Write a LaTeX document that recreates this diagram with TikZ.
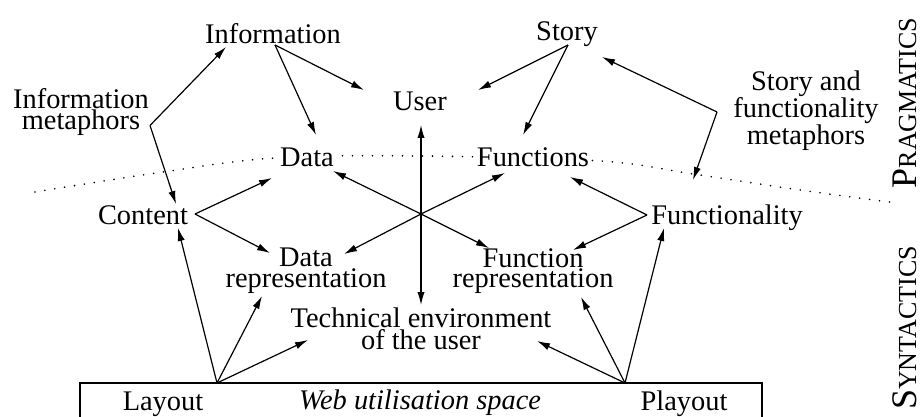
\documentclass[tikz,border=0pt]{standalone}
\usepackage{fontspec}
\setmainfont{Liberation Serif}
\usetikzlibrary{arrows.meta,calc}
\lineskiplimit=-30pt
\begin{document}
\begin{tikzpicture}[x=0.5pt,y=-0.5pt,
  lbl/.style={inner sep=0pt, font=\fontsize{14.2}{17}\selectfont},
  lb/.style={lbl, anchor=base},
  ml/.style={inner sep=0pt, align=center, anchor=north, font=\fontsize{14.2}{#1}\selectfont},
  hid/.style={fill=white, inner sep=1pt},
  arr/.style={line width=0.6pt, -{Latex[length=6.5pt,width=3.6pt]}},
  darr/.style={line width=0.6pt, {Latex[length=6.5pt,width=3.6pt]}-{Latex[length=6.5pt,width=3.6pt]}},
  frame/.style={line width=0.6pt},
  dots/.style={line width=0.9pt, line cap=round, dash pattern=on 0pt off 5pt},
  side/.style={rotate=90, anchor=base, inner sep=0pt}]
\useasboundingbox (0,0) rectangle (921,417);

% dotted border between pragmatics and syntactics
\draw[dots] plot[smooth, tension=0.6] coordinates {(35,192) (163,172) (275,158) (420,156) (600,161) (693,174) (800,190) (897,203)};

% box
\draw[frame] (80,383) rectangle (762,421);

% nodes
\node[lb] (info) at (273,43.5) {Information};
\node[ml=10.2] (infometa) at (81,88.5) {Information\\metaphors};
\node[lb] (user) at (420,111) {User};
\node[lb] (story) at (567,40.5) {Story};
\node[ml=13.5] (sfm) at (806,70.5) {Story and\\functionality\\metaphors};
\node[lb, hid] (data) at (307,166) {Data};
\node[lb, hid] (functions) at (533,166) {Functions};
\node[lb] (content) at (143,224) {Content};
\node[lb] (functionality) at (727,224) {Functionality};
\node[ml=10.5] (datarep) at (306,248) {Data\\representation};
\node[ml=10] (funcrep) at (533,248) {Function\\representation};
\node[ml=11] (tech) at (421,307.5) {Technical environment\\of the user};
\node[lb] (layout) at (163,410) {Layout};
\node[lb] (web) at (420,409) {\itshape Web utilisation space};
\node[lb] (playout) at (684,410) {Playout};
\node[side] (prag) at (916,103) {\fontsize{18}{18}\selectfont P\fontsize{13}{13}\selectfont RAGMATICS};
\node[side] (synt) at (916,328) {\fontsize{18}{18}\selectfont S\fontsize{13}{13}\selectfont YNTACTICS};

% junction points
\coordinate (imapex) at ([shift={(69,37)}]infometa.north);
\coordinate (cnapex) at ([shift={(52,-10)}]content.base);
\coordinate (fyapex) at ([shift={(-80,-9)}]functionality.base);
\coordinate (sfapex) at ([shift={(-89,41.5)}]sfm.north);
\coordinate (lyapex) at ([shift={(54,-27)}]layout.base);
\coordinate (plapex) at ([shift={(-59,-27)}]playout.base);
\coordinate (hub) at (421,214);

% connectors
\draw[arr] (imapex) -- ([shift={(-47,3.5)}]info.base);
\draw[arr] (imapex) -- ([shift={(33,-20)}]content.base);
\draw[arr] ([shift={(2,1.5)}]info.base) -- ([shift={(-56,-21)}]user.base);
\draw[arr] ([shift={(2,1.5)}]info.base) -- ([shift={(9,-31)}]data.base);
\draw[arr] ([shift={(1,4.5)}]story.base) -- ([shift={(58,-21)}]user.base);
\draw[arr] ([shift={(1,4.5)}]story.base) -- ([shift={(-10,-31)}]functions.base);
\draw[arr] (sfapex) -- ([shift={(35,16.5)}]story.base);
\draw[arr] (sfapex) -- ([shift={(-34,-44)}]functionality.base);
\draw[darr] ([shift={(1,14)}]user.base) -- ([shift={(0,-2.5)}]tech.north);
\draw[arr] (hub) -- ([shift={(26,5)}]data.base);
\draw[arr] (hub) -- ([shift={(-28,7)}]functions.base);
\draw[arr] (hub) -- ([shift={(38,6)}]datarep.north);
\draw[arr] (hub) -- ([shift={(-44,0)}]funcrep.north);
\draw[arr] (cnapex) -- ([shift={(-35,12)}]data.base);
\draw[arr] (cnapex) -- ([shift={(-36,5)}]datarep.north);
\draw[arr] (fyapex) -- ([shift={(37,11)}]functions.base);
\draw[arr] (fyapex) -- ([shift={(40,2)}]funcrep.north);
\draw[arr] (lyapex) -- ([shift={(35,4)}]content.base);
\draw[arr] (lyapex) -- ([shift={(-44,48)}]datarep.north);
\draw[arr] (lyapex) -- ([shift={(-113,32.5)}]tech.north);
\draw[arr] (plapex) -- ([shift={(-63,4)}]functionality.base);
\draw[arr] (plapex) -- ([shift={(48,49)}]funcrep.north);
\draw[arr] (plapex) -- ([shift={(116,33.5)}]tech.north);
\end{tikzpicture}
\end{document}
